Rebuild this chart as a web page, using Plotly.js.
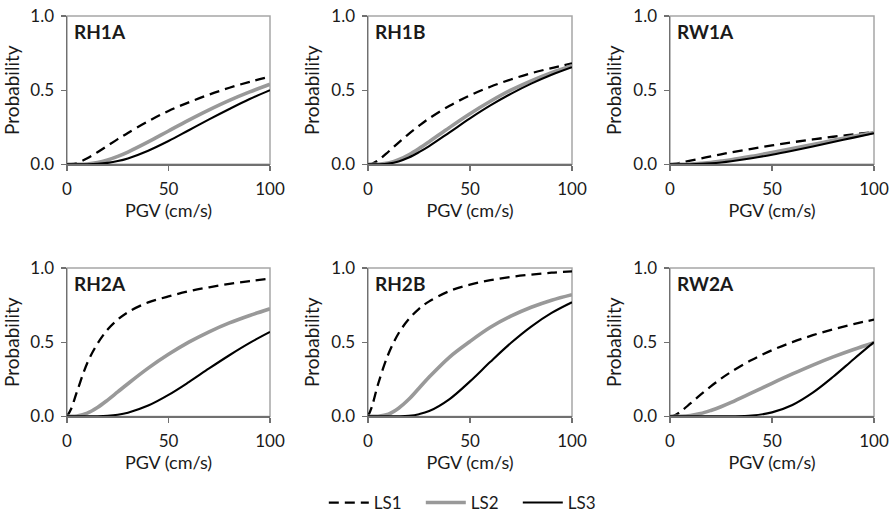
<!DOCTYPE html>
<html>
<head>
<meta charset="utf-8">
<script src="https://cdn.plot.ly/plotly-3.0.1.min.js"></script>
<style>html,body{margin:0;padding:0;background:#fff;}#chart{width:893px;height:521px;}</style>
</head>
<body>
<div id="chart"></div>
<script>
// PGV (cm/s) sample points
const pgv = [0, 2, 5, 10, 15, 20, 25, 30, 40, 50, 60, 70, 80, 90, 100];

const panelNames = ["RH1A", "RH1B", "RW1A", "RH2A", "RH2B", "RW2A"];
const seriesNames = ["LS1", "LS2", "LS3"];

// Probability of exceedance
const RH1A_LS1 = [0, 0.001, 0.01, 0.041, 0.082, 0.126, 0.17, 0.212, 0.29, 0.36, 0.418, 0.47, 0.516, 0.556, 0.591];
const RH1A_LS2 = [0, 0, 0.0002, 0.003, 0.0125, 0.03, 0.054, 0.083, 0.151, 0.225, 0.298, 0.367, 0.431, 0.488, 0.54];
const RH1A_LS3 = [0, 0, 0, 0.0004, 0.003, 0.01, 0.022, 0.04, 0.092, 0.157, 0.23, 0.303, 0.373, 0.44, 0.5];

const RH1B_LS1 = [0, 0.004, 0.027, 0.085, 0.147, 0.206, 0.26, 0.31, 0.395, 0.465, 0.523, 0.572, 0.614, 0.649, 0.68];
const RH1B_LS2 = [0, 0, 0.001, 0.009, 0.031, 0.065, 0.107, 0.153, 0.249, 0.341, 0.425, 0.5, 0.563, 0.618, 0.665];
const RH1B_LS3 = [0, 0, 0.0003, 0.005, 0.02, 0.046, 0.082, 0.123, 0.216, 0.31, 0.397, 0.475, 0.544, 0.604, 0.655];

const RW1A_LS1 = [0, 0.0026, 0.01, 0.025, 0.039, 0.054, 0.068, 0.081, 0.105, 0.128, 0.149, 0.168, 0.186, 0.202, 0.218];
const RW1A_LS2 = [0, 0, 0, 0.002, 0.007, 0.013, 0.022, 0.031, 0.054, 0.08, 0.107, 0.134, 0.162, 0.189, 0.215];
const RW1A_LS3 = [0, 0, 0, 0.0008, 0.003, 0.007, 0.013, 0.021, 0.041, 0.065, 0.092, 0.121, 0.151, 0.18, 0.21];

const RH2A_LS1 = [0, 0.05, 0.17, 0.36, 0.49, 0.585, 0.652, 0.702, 0.768, 0.808, 0.843, 0.87, 0.893, 0.912, 0.928];
const RH2A_LS2 = [0, 0, 0.003, 0.022, 0.06, 0.11, 0.165, 0.22, 0.325, 0.418, 0.5, 0.57, 0.63, 0.68, 0.725];
const RH2A_LS3 = [0, 0, 0, 0, 0.0007, 0.0036, 0.011, 0.025, 0.073, 0.145, 0.231, 0.323, 0.412, 0.495, 0.569];

const RH2B_LS1 = [0, 0.07, 0.22, 0.42, 0.56, 0.655, 0.725, 0.775, 0.845, 0.888, 0.918, 0.94, 0.955, 0.968, 0.977];
const RH2B_LS2 = [0, 0, 0.001, 0.015, 0.055, 0.115, 0.19, 0.265, 0.40, 0.505, 0.60, 0.675, 0.735, 0.783, 0.82];
const RH2B_LS3 = [0, 0, 0, 0, 0.0006, 0.004, 0.015, 0.036, 0.117, 0.236, 0.368, 0.494, 0.605, 0.697, 0.769];

const RW2A_LS1 = [0, 0.005, 0.03, 0.087, 0.146, 0.202, 0.254, 0.3, 0.38, 0.446, 0.5, 0.547, 0.587, 0.622, 0.652];
const RW2A_LS2 = [0, 0, 0.0006, 0.006, 0.019, 0.04, 0.065, 0.094, 0.158, 0.223, 0.286, 0.346, 0.401, 0.451, 0.496];
const RW2A_LS3 = [0, 0, 0, 0, 0, 0, 0, 0.0004, 0.005, 0.027, 0.077, 0.16, 0.267, 0.385, 0.5];

const xTickVals = [0, 50, 100];
const yTickVals = [0, 0.5, 1];
const xTitle = "PGV (cm/s)";
const yTitle = "Probability";

const panelData = [
  [RH1A_LS1, RH1A_LS2, RH1A_LS3],
  [RH1B_LS1, RH1B_LS2, RH1B_LS3],
  [RW1A_LS1, RW1A_LS2, RW1A_LS3],
  [RH2A_LS1, RH2A_LS2, RH2A_LS3],
  [RH2B_LS1, RH2B_LS2, RH2B_LS3],
  [RW2A_LS1, RW2A_LS2, RW2A_LS3]
];

const W = 893, H = 521;
const colsPx = [[67, 270], [368, 572], [670, 874]];
const rowsPx = [[16, 165], [269, 418]];

const lineStyles = [
  {color: "#000000", width: 2.3, dash: "10px,6px"},
  {color: "#999999", width: 3.6, dash: "solid"},
  {color: "#000000", width: 2.1, dash: "solid"}
];

const FONT = "Lato, 'Open Sans', sans-serif";
const TXT = "#1a1a1a";
const traces = [];
const layout = {
  width: W, height: H,
  margin: {l: 0, r: 0, t: 0, b: 0},
  paper_bgcolor: "#ffffff",
  plot_bgcolor: "#ffffff",
  font: {family: FONT, size: 16, color: TXT},
  showlegend: true,
  legend: {
    orientation: "h", x: 0.3626, xanchor: "left", y: 0.03, yanchor: "middle",
    font: {family: FONT, size: 17, color: TXT},
    itemwidth: 40, entrywidth: 42, entrywidthmode: "pixels",
    tracegroupgap: 0, bgcolor: "rgba(0,0,0,0)"
  },
  shapes: [],
  annotations: []
};

panelNames.forEach((name, i) => {
  const r = Math.floor(i / 3), c = i % 3;
  const sfx = i === 0 ? "" : String(i + 1);
  const xa = "xaxis" + sfx, ya = "yaxis" + sfx;
  const xr = "x" + sfx, yr = "y" + sfx;
  layout[xa] = {
    domain: [colsPx[c][0] / W, colsPx[c][1] / W],
    anchor: yr,
    range: [0, 100],
    tickvals: xTickVals,
    ticks: "outside", ticklen: 5, tickcolor: "#707070", tickwidth: 1.2,
    showline: true, linecolor: "#707070", linewidth: 1.5,
    showgrid: false, zeroline: false,
    ticklabelstandoff: 4,
    tickfont: {family: FONT, size: 17, color: TXT},
    title: {text: xTitle, font: {family: FONT, size: 18, color: TXT}, standoff: 4},
    fixedrange: true
  };
  layout[ya] = {
    domain: [1 - rowsPx[r][1] / H, 1 - rowsPx[r][0] / H],
    anchor: xr,
    range: [0, 1],
    tickvals: yTickVals,
    tickformat: ".1f",
    ticks: "outside", ticklen: 5, tickcolor: "#707070", tickwidth: 1.2,
    showline: true, linecolor: "#707070", linewidth: 1.5,
    showgrid: false, zeroline: false,
    ticklabelstandoff: 3,
    tickfont: {family: FONT, size: 17, color: TXT},
    title: {text: yTitle, font: {family: FONT, size: 19, color: TXT}, standoff: 6},
    fixedrange: true
  };
  // light gray frame (top and right)
  layout.shapes.push({
    type: "rect", xref: xr + " domain", yref: yr + " domain",
    x0: 0, x1: 1, y0: 0, y1: 1,
    line: {color: "#a6a6a6", width: 1.5}, layer: "below"
  });
  layout.annotations.push({
    text: "<b>" + name + "</b>", xref: xr + " domain", yref: yr + " domain",
    x: 0.025, y: 0.895, xanchor: "left", yanchor: "middle", showarrow: false,
    font: {family: FONT, size: 19, color: TXT}
  });
  panelData[i].forEach((ys, k) => {
    traces.push({
      type: "scatter", mode: "lines",
      x: pgv, y: ys,
      xaxis: xr, yaxis: yr,
      name: seriesNames[k],
      legendgroup: seriesNames[k],
      showlegend: i === 0,
      line: Object.assign({shape: "spline", smoothing: 1}, lineStyles[k]),
      hoverinfo: "skip"
    });
  });
});

Plotly.newPlot("chart", traces, layout, {staticPlot: true});
</script>
</body>
</html>
